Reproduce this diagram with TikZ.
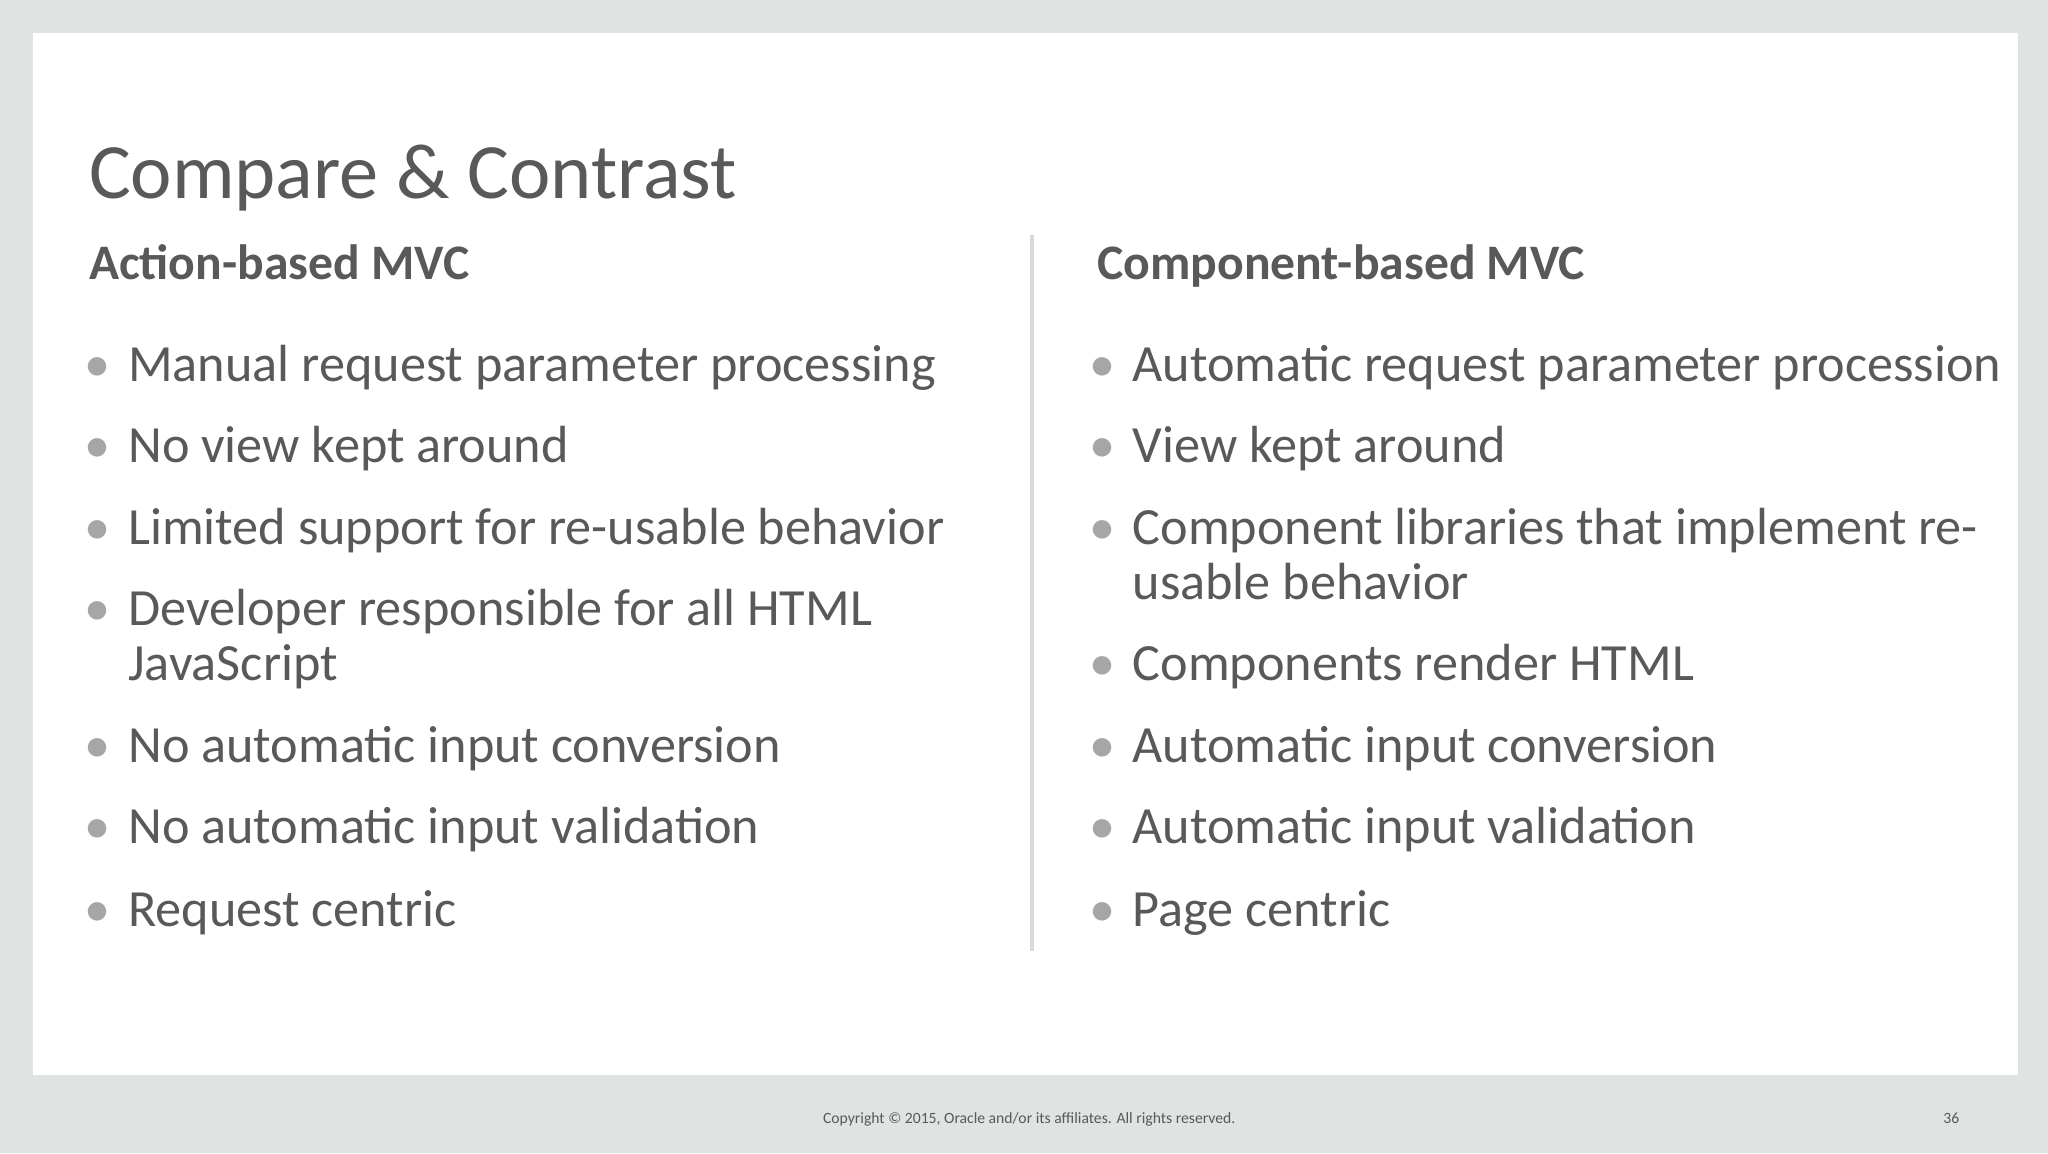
\documentclass[tikz,border=0pt]{standalone}
\usepackage{fontspec}
\setmainfont{Carlito}
\definecolor{bg}{HTML}{DFE3E1}
\definecolor{txt}{HTML}{595959}
\definecolor{bul}{HTML}{A6A6A6}
\definecolor{divc}{HTML}{D9D9D9}
\begin{document}
\begin{tikzpicture}[x=1pt,y=-1pt,
  item/.style={anchor=base west,inner sep=0pt,text=txt,font=\fontsize{40}{48}\selectfont},
  dot/.style={anchor=base,inner sep=0pt,text=bul,font=\fontsize{40}{48}\selectfont},
  head/.style={anchor=base west,inner sep=0pt,text=txt,font=\fontsize{38}{46}\selectfont\bfseries}]
\fill[bg] (0,0) rectangle (1568,883);
\fill[white] (25,25) rectangle (1545,823);
\useasboundingbox (0,0) rectangle (1568,883);
\draw[divc,line width=3pt] (790,180) -- (790,728);
\node[anchor=base west,inner sep=0pt,text=txt,font=\fontsize{60}{70}\selectfont] (title) at (68,152) {Compare \& Contrast};
\node[head] (hl) at (68,214) {Action-based MVC};
\node[head] (hr) at (840,214) {Component-based MVC};
\foreach \y/\t [count=\i] in {292/Manual request parameter processing,354/No view kept around,417/Limited support for re-usable behavior,479/Developer responsible for all HTML /,584/No automatic input conversion,646/No automatic input validation,709/Request centric}{
  \node[dot] (lb\i) at (75,\y) {•};
  \node[item] (l\i) at (98,\y) {\t};
}
\node[item] (l4b) at (98,521) {JavaScript};
\foreach \y/\t [count=\i] in {292/Automatic request parameter procession,354/View kept around,417/Component libraries that implement re-,521/Components render HTML / JavaScript,584/Automatic input conversion,646/Automatic input validation,709/Page centric}{
  \node[dot] (rb\i) at (844,\y) {•};
  \node[item] (r\i) at (867,\y) {\t};
}
\node[item] (r3b) at (867,459) {usable behavior};
\node[anchor=base,inner sep=0pt,text=txt,font=\fontsize{12}{14}\selectfont] (foot) at (788,860) {Copyright © 2015, Oracle and/or its affiliates. All rights reserved.};
\node[anchor=base,inner sep=0pt,text=txt,font=\fontsize{12}{14}\selectfont] (pg) at (1494,860) {36};
\end{tikzpicture}
\end{document}
